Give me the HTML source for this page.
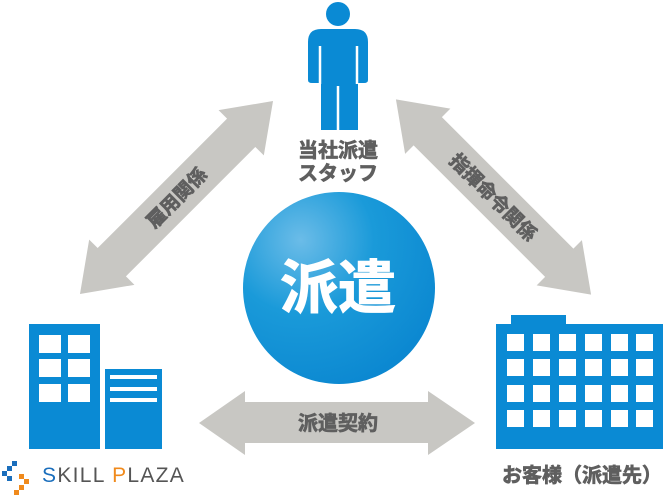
<!DOCTYPE html>
<html><head><meta charset="utf-8"><style>
html,body{margin:0;padding:0;background:#fff;}
svg{display:block;}
text{font-family:"Liberation Sans","Noto Sans CJK JP",sans-serif;}
.lb{stroke:#5f5f5f;stroke-width:0.7;}
</style></head><body>
<svg width="664" height="498" viewBox="0 0 664 498" xmlns="http://www.w3.org/2000/svg">
<defs>
<radialGradient id="g" cx="0.3" cy="0.25" r="0.85">
<stop offset="0" stop-color="#6bbce8"/>
<stop offset="0.45" stop-color="#1a9ad9"/>
<stop offset="1" stop-color="#0a86d0"/>
</radialGradient>
</defs>
<g transform="translate(176.5,197.5) rotate(-45)">
<polygon points="-136.5,0 -91.5,-32 -91.5,-20 91.5,-20 91.5,-32 136.5,0 91.5,32 91.5,20 -91.5,20 -91.5,32" fill="#c8c7c3"/>
<text class="lb" x="0" y="7" text-anchor="middle" font-size="19" font-weight="bold" fill="#5f5f5f">雇用関係</text>
</g>
<g transform="translate(493.5,197) rotate(45)">
<polygon points="-138,0 -93,-32 -93,-20 93,-20 93,-32 138,0 93,32 93,20 -93,20 -93,32" fill="#c8c7c3"/>
<text class="lb" x="0" y="7" text-anchor="middle" font-size="19" font-weight="bold" fill="#5f5f5f">指揮命令関係</text>
</g>
<polygon points="199,423 245,391 245,402 428,402 428,391 475,423 428,455 428,443 245,443 245,455" fill="#c8c7c3"/>
<text class="lb" x="338" y="430" text-anchor="middle" font-size="20" font-weight="bold" fill="#5f5f5f">派遣契約</text>
<circle cx="339" cy="288" r="96" fill="url(#g)"/>
<text x="338" y="308" text-anchor="middle" font-size="58" font-weight="bold" fill="#fff" stroke="#fff" stroke-width="1">派遣</text>
<g fill="#0a8ad4">
<circle cx="338" cy="14" r="12"/>
<path d="M308,80 L308,42 Q308,29 321,29 L355,29 Q368,29 368,42 L368,80 Q368,83 364,83 L358,83 L358,130 L339,130 L339,88 L337,88 L337,130 L321,130 L321,83 L312,83 Q308,83 308,80Z"/>
</g>
<g stroke="#fff" stroke-width="2.5">
<line x1="320" y1="46" x2="320" y2="84"/>
<line x1="357" y1="46" x2="357" y2="84"/>
<line x1="338" y1="86" x2="338" y2="131"/>
</g>
<text class="lb" x="338" y="157" text-anchor="middle" font-size="20" font-weight="bold" fill="#5f5f5f">当社派遣</text>
<text class="lb" x="338" y="180" text-anchor="middle" font-size="20" font-weight="bold" fill="#5f5f5f">スタッフ</text>
<rect x="29" y="324" width="71" height="125" fill="#0a8ad4"/>
<g fill="#fff">
<rect x="39" y="335" width="22" height="18"/><rect x="68" y="335" width="22" height="18"/>
<rect x="39" y="359" width="22" height="18"/><rect x="68" y="359" width="22" height="18"/>
<rect x="39" y="384" width="22" height="18"/><rect x="68" y="384" width="22" height="18"/>
</g>
<rect x="105" y="369" width="57" height="80" fill="#0a8ad4"/>
<g fill="#fff">
<rect x="110" y="375" width="47" height="4"/>
<rect x="110" y="387" width="47" height="4"/>
<rect x="110" y="398" width="47" height="4"/>
</g>
<g>
<rect x="12" y="461" width="5" height="5" fill="#1a6ebc"/>
<rect x="7" y="466" width="5" height="5" fill="#1a6ebc"/>
<rect x="2" y="471" width="5" height="5" fill="#1a6ebc"/>
<rect x="7" y="476" width="5" height="5" fill="#1a6ebc"/>
<rect x="19" y="474" width="5" height="5" fill="#f08a1c"/>
<rect x="24" y="479" width="5" height="5" fill="#f08a1c"/>
<rect x="19" y="485" width="5" height="5" fill="#f08a1c"/>
<rect x="14" y="490" width="5" height="5" fill="#f08a1c"/>
</g>
<text x="42" y="482" font-size="21" fill="#555" letter-spacing="1.3"><tspan fill="#1a6ebc">S</tspan>KILL <tspan fill="#f08a1c">P</tspan>LAZA</text>
<rect x="511" y="315" width="55" height="12" fill="#0a8ad4"/>
<rect x="496" y="324" width="167" height="125" fill="#0a8ad4"/>
<g fill="#fff">
<g id="row">
<rect x="507" y="334" width="17" height="17"/><rect x="533" y="334" width="17" height="17"/><rect x="559" y="334" width="17" height="17"/><rect x="585" y="334" width="17" height="17"/><rect x="611" y="334" width="17" height="17"/><rect x="636" y="334" width="17" height="17"/>
</g>
<use href="#row" y="25"/>
<use href="#row" y="51"/>
<use href="#row" y="76"/>
</g>
<text class="lb" x="582" y="482" text-anchor="middle" font-size="20" font-weight="bold" fill="#5f5f5f">お客様（派遣先）</text>
</svg>
</body></html>
